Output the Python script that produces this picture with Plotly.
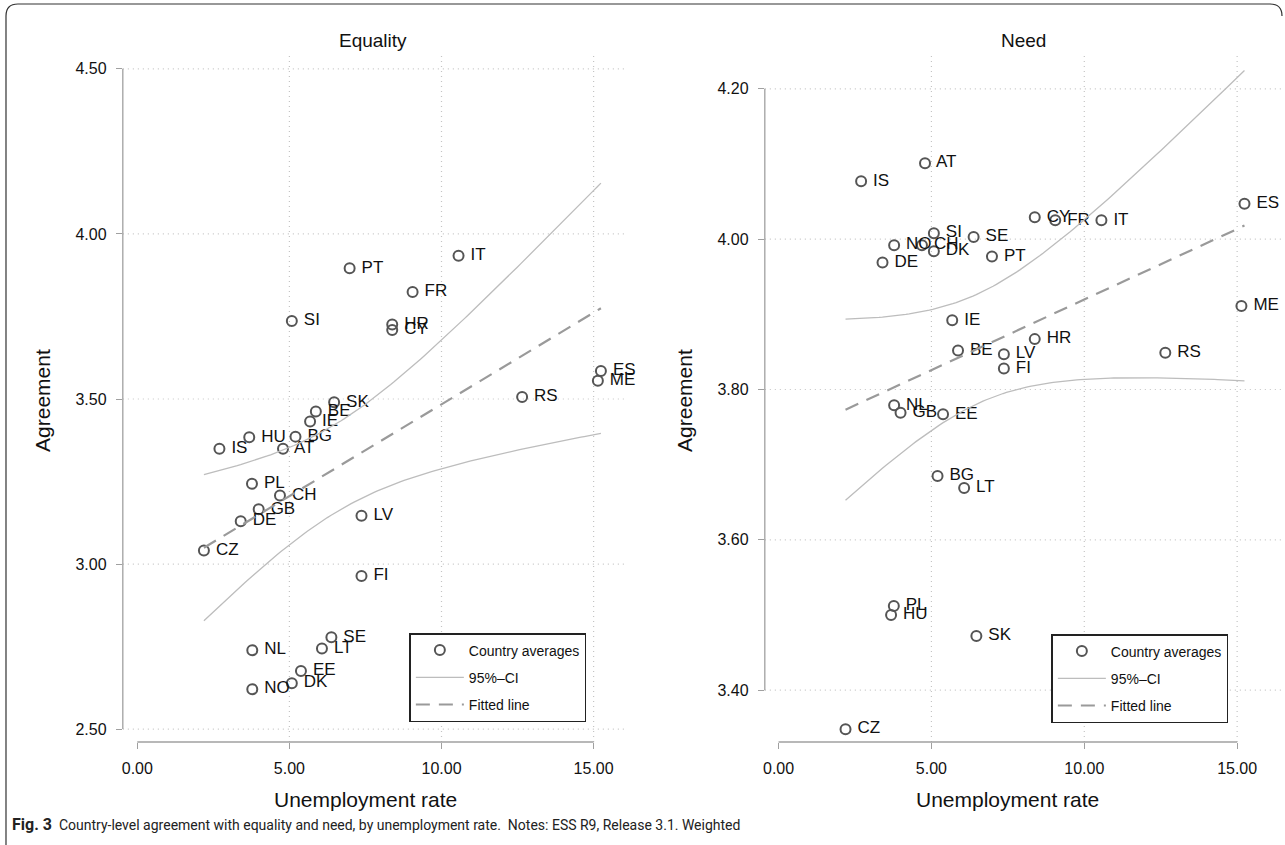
import numpy as np
import plotly.graph_objects as go

# Country codes and unemployment rate (%)
countries = ["AT", "BE", "BG", "CH", "CY", "CZ", "DE", "DK", "EE", "ES",
             "FI", "FR", "GB", "HR", "HU", "IE", "IS", "IT", "LT", "LV",
             "ME", "NL", "NO", "PL", "PT", "RS", "SE", "SI", "SK"]
unemployment = [4.79, 5.87, 5.20, 4.69, 8.38, 2.19, 3.40, 5.08, 5.38, 15.24,
                7.37, 9.05, 3.99, 8.38, 3.68, 5.68, 2.70, 10.56, 6.07, 7.37,
                15.14, 3.78, 3.78, 3.77, 6.98, 12.65, 6.38, 5.08, 6.47]

# Country averages of agreement with each principle
equality = [3.349, 3.462, 3.386, 3.208, 3.709, 3.041, 3.130, 2.639, 2.676, 3.585,
            2.964, 3.824, 3.166, 3.726, 3.384, 3.432, 3.349, 3.934, 2.744, 3.146,
            3.555, 2.739, 2.621, 3.243, 3.896, 3.506, 2.778, 3.736, 3.490]
need = [4.101, 3.852, 3.685, 3.992, 4.029, 3.348, 3.969, 3.984, 3.767, 4.047,
        3.828, 4.025, 3.769, 3.867, 3.500, 3.892, 4.077, 4.025, 3.669, 3.847,
        3.911, 3.779, 3.992, 3.512, 3.977, 3.849, 4.003, 4.008, 3.472]

x_ticks = [0, 5, 10, 15]
eq_ticks = [2.5, 3.0, 3.5, 4.0, 4.5]
need_ticks = [3.4, 3.6, 3.8, 4.0, 4.2]
T_CRIT = 2.052  # t(0.975, df = 27)

W, H = 1285, 845
FONT = "Liberation Sans, Arial, Helvetica, sans-serif"
MARK = "#555555"
CI_COL = "#bdbdbd"
FIT_COL = "#9a9a9a"
AXIS_COL = "#a0a0a0"
GRID_COL = "#c4c4c4"


def linfit_ci(x, y, n_grid=120):
    x = np.asarray(x, float)
    y = np.asarray(y, float)
    n = len(x)
    xbar = x.mean()
    sxx = ((x - xbar) ** 2).sum()
    b1 = ((x - xbar) * (y - y.mean())).sum() / sxx
    b0 = y.mean() - b1 * xbar
    resid = y - (b0 + b1 * x)
    s = np.sqrt((resid ** 2).sum() / (n - 2))
    xg = np.linspace(x.min(), x.max(), n_grid)
    yg = b0 + b1 * xg
    se = s * np.sqrt(1.0 / n + (xg - xbar) ** 2 / sxx)
    return xg, yg, yg - T_CRIT * se, yg + T_CRIT * se


fig = go.Figure()

panels = [
    dict(y=equality, xa="x", ya="y", leg="legend"),
    dict(y=need, xa="x2", ya="y2", leg="legend2"),
]

point_labels = [" " + c for c in countries]

for p in panels:
    xg, yg, lo, hi = linfit_ci(unemployment, p["y"])
    fig.add_trace(go.Scatter(
        x=unemployment, y=p["y"], mode="markers+text", text=point_labels,
        textposition="middle right", textfont=dict(family=FONT, size=17, color="#111"),
        marker=dict(symbol="circle-open", size=10, color=MARK, line=dict(width=2, color=MARK)),
        name="Country averages", legendgroup="pts", legend=p["leg"],
        xaxis=p["xa"], yaxis=p["ya"], cliponaxis=False))
    fig.add_trace(go.Scatter(
        x=xg, y=hi, mode="lines", line=dict(color=CI_COL, width=1.3),
        name="95%\u2013CI", legendgroup="ci", legend=p["leg"],
        xaxis=p["xa"], yaxis=p["ya"]))
    fig.add_trace(go.Scatter(
        x=xg, y=lo, mode="lines", line=dict(color=CI_COL, width=1.3),
        name="95%\u2013CI", legendgroup="ci", showlegend=False, legend=p["leg"],
        xaxis=p["xa"], yaxis=p["ya"]))
    fig.add_trace(go.Scatter(
        x=xg, y=yg, mode="lines", line=dict(color=FIT_COL, width=2.2, dash="14px,9px"),
        name="Fitted line", legendgroup="fit", legend=p["leg"],
        xaxis=p["xa"], yaxis=p["ya"]))


def px_x(px):
    return px / W


def px_y(py):
    return (H - py) / H


axis_common = dict(showline=False, zeroline=False, showgrid=False, ticks="outside",
                   ticklen=6, tickwidth=1, tickcolor=AXIS_COL, ticklabelstandoff=6,
                   tickfont=dict(family=FONT, size=16, color="#111"))

fig.update_layout(
    width=W, height=H, margin=dict(l=0, r=0, t=0, b=0),
    paper_bgcolor="white", plot_bgcolor="white", showlegend=True,
    xaxis=dict(domain=[px_x(121), px_x(623)], range=[-0.476, 16.0],
               tickvals=x_ticks, ticktext=[f"{v:.2f}" for v in x_ticks],
               anchor="y", **axis_common),
    yaxis=dict(domain=[px_y(742), px_y(55)], range=[2.461, 4.542],
               tickvals=eq_ticks, ticktext=[f"{v:.2f}" for v in eq_ticks],
               anchor="x", **axis_common),
    xaxis2=dict(domain=[px_x(764), px_x(1283)], range=[-0.45, 16.5],
                tickvals=x_ticks, ticktext=[f"{v:.2f}" for v in x_ticks],
                anchor="y2", **axis_common),
    yaxis2=dict(domain=[px_y(742), px_y(55)], range=[3.331, 4.245],
                tickvals=need_ticks, ticktext=[f"{v:.2f}" for v in need_ticks],
                anchor="x2", **axis_common),
)

legend_style = dict(bgcolor="white", bordercolor="#222", borderwidth=1.5,
                    font=dict(family=FONT, size=14, color="#111"),
                    itemwidth=48, tracegroupgap=6, traceorder="grouped",
                    xanchor="left", yanchor="top")
fig.update_layout(
    legend=dict(x=px_x(408), y=px_y(633), **legend_style),
    legend2=dict(x=px_x(1051), y=px_y(634), **legend_style),
)

shapes = []
for xa, ya, yt, xref_dom, yref_dom in [("x", "y", eq_ticks, "x domain", "y domain"),
                                       ("x2", "y2", need_ticks, "x2 domain", "y2 domain")]:
    # dotted grid
    for v in x_ticks[1:]:
        shapes.append(dict(type="line", xref=xa, yref=yref_dom, x0=v, x1=v, y0=0, y1=1,
                           line=dict(color=GRID_COL, width=1.2, dash="1px,4px"), layer="below"))
    for v in yt:
        shapes.append(dict(type="line", xref=xref_dom, yref=ya, x0=0, x1=1, y0=v, y1=v,
                           line=dict(color=GRID_COL, width=1.2, dash="1px,4px"), layer="below"))
    # axis lines spanning the labelled range
    shapes.append(dict(type="line", xref=xa, yref=yref_dom, x0=x_ticks[0], x1=x_ticks[-1],
                       y0=0, y1=0, line=dict(color=AXIS_COL, width=1.3)))
    shapes.append(dict(type="line", xref=xref_dom, yref=ya, x0=0, x1=0,
                       y0=yt[0], y1=yt[-1], line=dict(color=AXIS_COL, width=1.3)))

# outer frame with rounded top corners
shapes.append(dict(type="path", xref="paper", yref="paper",
                   path=(f"M {px_x(4)},{px_y(845)} L {px_x(4)},{px_y(16)} "
                         f"Q {px_x(4)},{px_y(4)} {px_x(16)},{px_y(4)} "
                         f"L {px_x(1270)},{px_y(4)} Q {px_x(1282)},{px_y(4)} {px_x(1282)},{px_y(16)}"),
                   line=dict(color="#333", width=1.2)))
fig.update_layout(shapes=shapes)

ann = []
ann.append(dict(text="Equality", xref="x domain", yref="paper", x=0.5, y=px_y(40),
                yanchor="middle", showarrow=False, font=dict(family=FONT, size=19, color="#111")))
ann.append(dict(text="Need", xref="x2 domain", yref="paper", x=0.5, y=px_y(40),
                yanchor="middle", showarrow=False, font=dict(family=FONT, size=19, color="#111")))
for xa, xpx in [("x", 40), ("x2", 683)]:
    ann.append(dict(text="Agreement", xref="paper", yref="paper", x=px_x(xpx), y=px_y(400),
                    xanchor="center", yanchor="middle", textangle=-90, showarrow=False,
                    font=dict(family=FONT, size=21, color="#111")))
    ann.append(dict(text="Unemployment rate", xref=xa, yref="paper", x=7.5, y=px_y(799),
                    xanchor="center", yanchor="middle", showarrow=False,
                    font=dict(family=FONT, size=21, color="#111")))
ann.append(dict(text="<b style='font-size:16px'>Fig. 3</b>  Country-level agreement with equality and need, "
                     "by unemployment rate.  Notes: ESS R9, Release 3.1. Weighted",
                xref="paper", yref="paper", x=px_x(8), y=px_y(824), xanchor="left", yanchor="middle",
                showarrow=False,
                font=dict(family="Roboto, Liberation Sans, sans-serif", size=14, color="#222")))
fig.update_layout(annotations=ann)

fig.write_html("out.html")
